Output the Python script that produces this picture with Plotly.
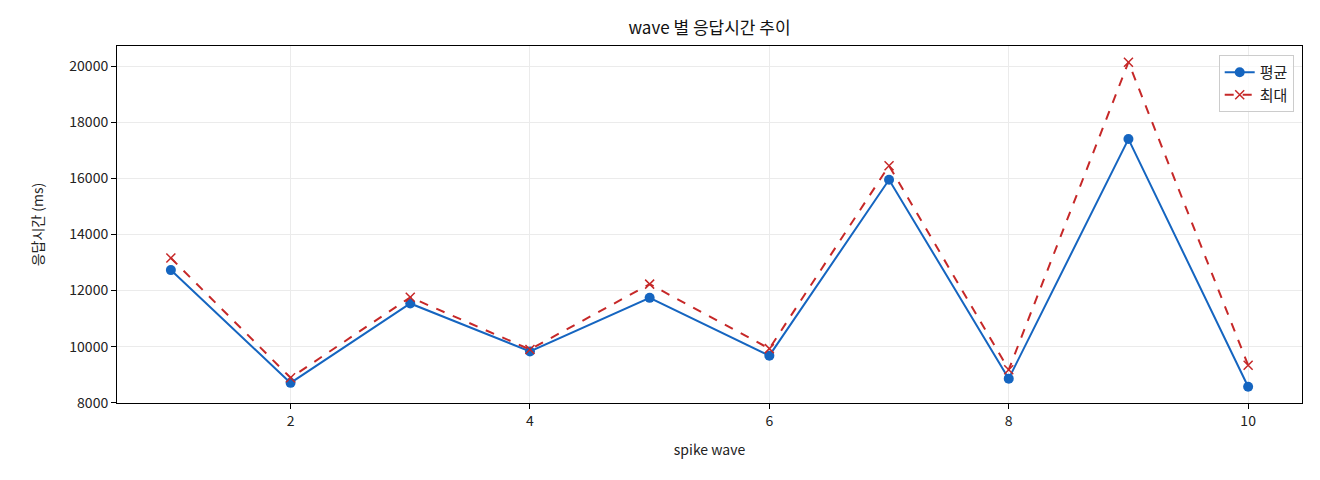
import plotly.graph_objects as go

# wave 번호
waves = [1, 2, 3, 4, 5, 6, 7, 8, 9, 10]
# 평균 응답시간 (ms)
avg_ms = [12730, 8710, 11540, 9830, 11740, 9680, 15950, 8860, 17400, 8570]
# 최대 응답시간 (ms)
max_ms = [13160, 8890, 11760, 9900, 12230, 9930, 16450, 9180, 20140, 9340]

y_ticks = [8000, 10000, 12000, 14000, 16000, 18000, 20000]

font = "Noto Sans CJK KR"

fig = go.Figure()
fig.add_trace(go.Scatter(x=waves, y=avg_ms, name="평균", mode="lines+markers",
                         line=dict(color="#1565c0", width=2),
                         marker=dict(symbol="circle", size=10, color="#1565c0")))
fig.add_trace(go.Scatter(x=waves, y=max_ms, name="최대", mode="lines+markers",
                         line=dict(color="#c62828", width=2, dash="dash"),
                         marker=dict(symbol="x-thin", size=9,
                                     line=dict(color="#c62828", width=1.5))))

# 페이지 body 여백(8px)을 감안한 margin
fig.update_layout(
    width=1320, height=480,
    margin=dict(l=109, r=26, t=38, b=85),
    paper_bgcolor="white", plot_bgcolor="white",
    font=dict(family=font, size=14, color="#222"),
    title=dict(text="wave 별 응답시간 추이", x=0.5, xref="paper", xanchor="center",
               y=1, yref="container", yanchor="top", pad=dict(t=14),
               font=dict(size=17, color="#111")),
    legend=dict(x=0.993, y=0.975, xanchor="right", yanchor="top",
                bgcolor="rgba(255,255,255,0.8)", bordercolor="#ccc", borderwidth=1,
                font=dict(size=15), tracegroupgap=4),
    showlegend=True,
)
fig.update_xaxes(range=[0.55, 10.45], tickvals=[2, 4, 6, 8, 10],
                 title=dict(text="spike wave", font=dict(size=14), standoff=16),
                 showgrid=True, gridcolor="#ebebeb", gridwidth=1,
                 showline=True, linecolor="black", linewidth=1, mirror=True,
                 ticks="outside", ticklen=5, tickcolor="black", zeroline=False)
fig.update_yaxes(range=[7992, 20718], tickvals=y_ticks, tickformat="d",
                 title=dict(text="응답시간 (ms)", font=dict(size=14), standoff=22),
                 showgrid=True, gridcolor="#ebebeb", gridwidth=1,
                 showline=True, linecolor="black", linewidth=1, mirror=True,
                 ticks="outside", ticklen=5, tickcolor="black", zeroline=False)

fig.write_html("out.html")
